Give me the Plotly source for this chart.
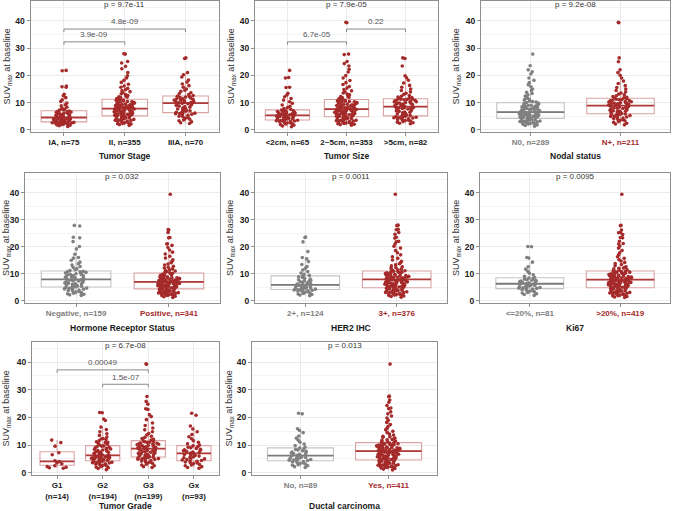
import plotly.graph_objects as go

W, H = 676, 511
FONT = "Arial, Liberation Sans, sans-serif"

RED = "#A52A2A"
RED_BOX = "#DBA3A3"
RED_MED = "#B03A3A"
GRAY = "#808080"
GRAY_BOX = "#C4C4C4"
GRAY_MED = "#7A7A7A"

# ---------------- Tumor Stage ----------------
stage_labels = ["IA, n=75", "II, n=355", "IIIA, n=70"]
stage_ia = [1.2, 1.5, 1.7, 1.8, 2.0, 2.1, 2.2, 2.3, 2.4, 2.5, 2.5, 2.6, 2.7, 2.7, 2.8, 2.8, 1.9, 2.2, 2.6,
            3.0, 3.1, 3.2, 3.3, 3.4, 3.5, 3.6, 3.7, 3.8, 3.9, 4.0, 4.1, 4.2, 4.3, 4.4, 3.3, 3.6, 3.9, 4.1,
            4.6, 4.8, 5.0, 5.1, 5.3, 5.5, 5.6, 5.8, 6.0, 6.1, 6.3, 6.5, 6.6, 6.8, 6.9, 4.9, 5.4, 5.9, 6.4,
            7.2, 7.5, 7.9, 8.3, 8.8, 9.2, 9.8, 10.4, 11.0, 11.8, 12.5, 13.0, 15.6, 15.8, 16.1, 21.7, 21.8, 7.4]
stage_ii = [1.6, 1.9, 2.1, 2.3, 2.4, 2.6, 2.8, 2.9, 3.1, 3.2, 3.4, 3.5, 3.6, 3.8, 3.9, 4.0, 4.2, 4.3, 4.4,
            4.6, 4.7, 4.8, 4.9, 5.0, 2.2, 3.3, 4.1,
            5.2, 5.3, 5.5, 5.6, 5.7, 5.9, 6.0, 6.1, 6.2, 6.4, 6.5, 6.6, 6.8, 6.9, 7.0, 7.1, 7.3, 7.4, 7.5,
            7.7, 5.4, 5.8, 6.3, 6.7, 7.2, 7.6, 6.0, 5.3,
            7.9, 8.0, 8.2, 8.3, 8.5, 8.6, 8.8, 8.9, 9.1, 9.3, 9.4, 9.6, 9.8, 9.9, 10.1, 10.3, 10.4, 10.6,
            10.8, 11.0, 11.1, 8.1, 8.7, 9.2, 9.7, 10.2, 10.9, 8.4,
            11.3, 11.5, 11.8, 12.0, 12.3, 12.6, 12.9, 13.2, 13.6, 14.0, 14.3, 14.7, 15.2, 15.6, 16.1, 16.7,
            17.4, 18.2, 19.0, 19.8, 21.0, 22.4, 23.3, 24.5, 25.1, 27.8, 27.9, 12.1]
stage_iiia = [2.3, 2.6, 2.9, 3.3, 3.6, 3.9, 4.2, 4.5, 4.8, 5.0, 5.3, 5.5, 5.7, 5.9, 6.0, 6.1, 6.2,
              6.4, 6.6, 6.9, 7.1, 7.3, 7.6, 7.8, 8.0, 8.3, 8.5, 8.7, 8.9, 9.1, 9.3, 9.5, 9.6, 9.7, 7.0,
              9.9, 10.0, 10.2, 10.3, 10.5, 10.6, 10.8, 10.9, 11.1, 11.2, 11.4, 11.5, 11.7, 11.8, 12.0, 12.1,
              12.3, 10.4,
              12.6, 12.9, 13.2, 13.6, 14.1, 14.5, 15.0, 15.6, 16.2, 16.8, 17.5, 18.3, 19.4, 20.2, 21.0,
              26.2, 26.4]
stage_q1 = [2.9, 5.1, 6.3]
stage_med = [4.5, 7.8, 9.8]
stage_q3 = [7.0, 11.2, 12.4]
stage_lo = [1.2, 1.6, 2.3]
stage_hi = [13.0, 20.0, 21.0]
stage_brackets = [(0, 1, 32.3, "3.9e-09"), (0, 2, 37.0, "4.8e-09")]

# ---------------- Tumor Size ----------------
size_labels = ["&lt;2cm, n=65", "2~5cm, n=353", "&gt;5cm, n=82"]
size_small = [1.1, 1.4, 1.7, 1.9, 2.1, 2.3, 2.5, 2.6, 2.8, 2.9, 3.0, 3.1, 3.2, 3.3, 3.4, 3.5,
              3.7, 3.8, 3.9, 4.0, 4.1, 4.2, 4.3, 4.4, 4.5, 4.6, 4.7, 4.8, 4.9, 5.0, 5.1, 5.2,
              5.4, 5.5, 5.6, 5.8, 5.9, 6.0, 6.1, 6.2, 6.4, 6.5, 6.6, 6.7, 6.9, 7.0, 7.1, 7.2,
              7.5, 7.8, 8.2, 8.6, 9.1, 9.7, 10.3, 10.9, 11.5, 12.1, 12.8, 13.4, 15.5, 15.6, 19.0, 19.2, 21.8]
size_mid = [1.7, 1.9, 2.0, 2.2, 2.3, 2.5, 2.6, 2.7, 2.9, 3.0, 3.1, 3.3, 3.4, 3.5, 3.6, 3.7, 3.9, 4.0,
            4.1, 4.2, 4.3, 4.4, 4.5, 4.6, 4.7, 2.4, 3.2,
            4.9, 5.0, 5.1, 5.3, 5.4, 5.5, 5.6, 5.8, 5.9, 6.0, 6.1, 6.2, 6.4, 6.5, 6.6, 6.7, 6.9, 7.0, 7.1,
            7.2, 7.4, 7.5, 5.2, 5.7, 6.3, 6.8, 7.3, 6.0,
            7.7, 7.8, 8.0, 8.1, 8.3, 8.4, 8.6, 8.7, 8.9, 9.0, 9.2, 9.3, 9.5, 9.7, 9.8, 10.0, 10.1, 10.3,
            10.5, 10.6, 10.8, 10.9, 11.0, 8.2, 8.8, 9.4, 9.9, 10.4,
            11.2, 11.4, 11.7, 11.9, 12.2, 12.5, 12.8, 13.1, 13.5, 13.9, 14.3, 14.8, 15.3, 15.9, 16.6, 17.3,
            18.1, 19.0, 19.9, 21.2, 22.2, 23.4, 24.3, 25.1, 27.6, 27.8, 39.3, 39.5]
size_large = [2.2, 2.4, 2.6, 2.8, 3.0, 3.2, 3.4, 3.5, 3.7, 3.8, 4.0, 4.1, 4.3, 4.4, 4.5, 4.6, 4.7, 4.8,
              4.9, 5.0,
              5.2, 5.4, 5.6, 5.8, 6.0, 6.2, 6.4, 6.5, 6.7, 6.9, 7.1, 7.3, 7.4, 7.6, 7.8, 7.9, 8.0, 8.1,
              8.2, 8.3, 8.4,
              8.6, 8.8, 8.9, 9.1, 9.3, 9.4, 9.6, 9.8, 10.0, 10.1, 10.3, 10.5, 10.6, 10.8, 10.9, 11.0,
              11.1, 11.2, 11.3, 9.7, 10.2,
              11.5, 11.6, 11.8, 12.0, 12.3, 12.6, 13.0, 13.4, 13.9, 14.4, 15.0, 15.6, 16.3, 17.2, 18.2,
              19.1, 19.8, 23.4, 26.2, 26.4]
size_q1 = [3.6, 4.8, 5.1]
size_med = [5.3, 7.6, 8.5]
size_q3 = [7.3, 11.1, 11.4]
size_lo = [1.1, 1.7, 2.2]
size_hi = [13.4, 19.9, 19.8]
size_brackets = [(0, 1, 32.3, "6.7e-05"), (1, 2, 37.0, "0.22")]

# ---------------- Nodal status ----------------
nodal_labels = ["N0, n=289", "N+, n=211"]
nodal_n0 = [1.3, 1.6, 1.8, 2.0, 2.1, 2.3, 2.4, 2.5, 2.6, 2.7, 2.8, 2.9, 3.0, 3.1, 3.2, 3.3, 3.4, 3.5, 3.6,
            3.7, 3.8, 3.9, 4.0, 4.1, 2.2,
            4.3, 4.4, 4.5, 4.6, 4.7, 4.8, 4.9, 5.0, 5.1, 5.2, 5.3, 5.4, 5.5, 5.6, 5.7, 5.8, 5.9, 6.0, 6.1,
            6.2, 6.3, 6.4, 4.6, 5.2, 5.8,
            6.6, 6.7, 6.8, 7.0, 7.1, 7.3, 7.4, 7.5, 7.7, 7.8, 8.0, 8.1, 8.3, 8.4, 8.6, 8.7, 8.9, 9.0, 9.2,
            9.3, 9.5, 9.6, 9.8, 7.2, 8.2,
            10.0, 10.2, 10.4, 10.6, 10.9, 11.1, 11.4, 11.7, 12.0, 12.4, 12.8, 13.3, 13.8, 14.4, 15.0, 15.8,
            16.5, 17.3, 18.2, 19.0, 20.5, 21.3, 22.0, 23.5, 27.8]
nodal_np = [1.8, 2.1, 2.4, 2.7, 3.0, 3.3, 3.5, 3.7, 3.9, 4.1, 4.3, 4.5, 4.7, 4.9, 5.0, 5.2, 5.3, 5.5, 5.6,
            5.7, 5.8,
            6.0, 6.2, 6.4, 6.5, 6.7, 6.9, 7.0, 7.2, 7.3, 7.5, 7.6, 7.8, 7.9, 8.1, 8.2, 8.4, 8.5, 8.6, 8.7,
            8.8, 6.8,
            9.0, 9.1, 9.2, 9.4, 9.5, 9.6, 9.8, 9.9, 10.0, 10.2, 10.3, 10.4, 10.6, 10.7, 10.8, 11.0, 11.1,
            11.2, 11.4, 11.5, 9.7,
            11.7, 11.9, 12.2, 12.5, 12.8, 13.1, 13.5, 13.9, 14.4, 15.0, 15.5, 16.2, 17.0, 17.9, 19.0, 20.0,
            21.0, 22.0, 25.0, 26.4, 39.3, 39.5]
nodal_q1 = [4.2, 5.9]
nodal_med = [6.5, 8.9]
nodal_q3 = [9.9, 11.6]
nodal_lo = [1.3, 1.8]
nodal_hi = [18.2, 20.0]

# ---------------- Hormone Receptor Status ----------------
hr_labels = ["Negative, n=159", "Positive, n=341"]
hr_neg = [2.0, 2.2, 2.4, 2.6, 2.8, 3.0, 3.2, 3.4, 3.6, 3.8, 4.0, 4.1, 4.3, 4.4, 4.6, 4.7, 4.8, 4.9, 5.0,
          5.2, 5.4, 5.5, 5.7, 5.8, 6.0, 6.2, 6.3, 6.5, 6.6, 6.8, 7.0, 7.1, 7.3, 7.4, 7.6, 7.7, 7.8, 6.1,
          8.0, 8.2, 8.3, 8.5, 8.7, 8.8, 9.0, 9.2, 9.3, 9.5, 9.7, 9.8, 10.0, 10.2, 10.3, 10.5, 10.7, 10.8,
          10.9,
          11.2, 11.5, 11.9, 12.3, 12.7, 13.2, 13.7, 14.3, 15.0, 15.8, 16.0, 17.2, 19.2, 20.1, 21.9, 23.3,
          23.5, 27.7, 27.9]
hr_pos = [1.2, 1.5, 1.7, 1.9, 2.0, 2.1, 2.3, 2.4, 2.5, 2.6, 2.7, 2.8, 2.9, 3.0, 3.1, 3.2, 3.3, 3.4, 3.5,
          3.6, 3.7, 3.8, 3.9, 4.0, 4.1, 4.2, 4.3, 2.2, 3.0, 3.6,
          4.5, 4.6, 4.7, 4.8, 4.9, 5.0, 5.1, 5.2, 5.3, 5.4, 5.5, 5.6, 5.7, 5.8, 5.9, 6.0, 6.1, 6.2, 6.3,
          6.4, 6.5, 6.6, 6.7, 6.8, 6.9, 4.8, 5.3, 5.9, 6.4, 6.0,
          7.1, 7.2, 7.3, 7.4, 7.5, 7.6, 7.7, 7.8, 7.9, 8.0, 8.1, 8.2, 8.3, 8.4, 8.5, 8.6, 8.7, 8.8, 8.9,
          9.0, 9.2, 9.4, 9.6, 9.8, 10.0, 10.2, 7.5, 8.0, 8.8, 9.5,
          10.4, 10.6, 10.8, 11.0, 11.2, 11.5, 11.8, 12.1, 12.4, 12.8, 13.2, 13.6, 14.1, 14.6, 15.2, 15.8,
          16.5, 17.3, 18.0, 18.8, 19.7, 20.5, 21.0, 21.1, 23.3, 23.4, 25.3, 26.2, 26.4, 39.4]
hr_q1 = [5.1, 4.4]
hr_med = [7.9, 7.0]
hr_q3 = [11.0, 10.3]
hr_lo = [2.0, 1.2]
hr_hi = [19.2, 18.8]

# ---------------- HER2 IHC ----------------
her2_labels = ["2+, n=124", "3+, n=376"]
her2_2 = [1.9, 2.1, 2.3, 2.5, 2.7, 2.9, 3.1, 3.3, 3.5, 3.6, 3.7, 3.8, 3.9, 4.0, 4.1,
          4.3, 4.4, 4.5, 4.6, 4.7, 4.8, 4.9, 5.0, 5.1, 5.2, 5.3, 5.5, 5.6, 5.7, 5.8,
          6.0, 6.2, 6.4, 6.6, 6.8, 7.0, 7.2, 7.4, 7.6, 7.8, 8.0, 8.3, 8.6, 8.9, 9.1,
          9.4, 9.8, 10.3, 10.8, 11.4, 12.0, 12.7, 13.4, 14.5, 15.5, 16.0, 18.2, 21.8, 23.4, 23.6]
her2_3 = [1.3, 1.6, 1.8, 2.0, 2.1, 2.2, 2.3, 2.5, 2.6, 2.7, 2.8, 3.0, 3.1, 3.2, 3.3, 3.4, 3.5, 3.6, 3.7,
          3.8, 3.9, 4.0, 4.1, 4.2, 4.3, 4.4, 4.5, 4.6, 4.7, 2.4, 3.5,
          4.9, 5.0, 5.1, 5.2, 5.3, 5.4, 5.5, 5.6, 5.7, 5.8, 5.9, 6.0, 6.1, 6.2, 6.3, 6.4, 6.5, 6.6, 6.7,
          6.8, 6.9, 7.0, 7.1, 7.2, 7.3, 7.4, 7.5, 7.6, 7.7, 7.8, 6.2,
          8.0, 8.1, 8.2, 8.3, 8.4, 8.5, 8.6, 8.7, 8.8, 8.9, 9.0, 9.1, 9.2, 9.3, 9.4, 9.5, 9.6, 9.7, 9.8,
          9.9, 10.0, 10.1, 10.2, 10.3, 10.4, 10.5, 10.6, 10.7, 10.8, 10.9, 9.0,
          11.1, 11.3, 11.5, 11.7, 12.0, 12.3, 12.6, 12.9, 13.3, 13.7, 14.1, 14.6, 15.1, 15.7, 16.3, 17.0,
          17.8, 18.6, 19.5, 20.2, 21.0, 21.8, 22.0, 23.2, 23.5, 24.6, 25.3, 26.3, 26.5, 27.8, 28.0, 39.4]
her2_q1 = [4.2, 4.8]
her2_med = [5.9, 7.9]
her2_q3 = [9.2, 11.0]
her2_lo = [1.9, 1.3]
her2_hi = [16.0, 20.2]

# ---------------- Ki67 ----------------
ki_labels = ["&lt;=20%, n=81", "&gt;20%, n=419"]
ki_low = [2.0, 2.3, 2.6, 2.9, 3.1, 3.3, 3.5, 3.7, 3.9, 4.1, 4.3, 4.4,
          4.6, 4.7, 4.8, 4.9, 5.1, 5.2, 5.4, 5.5, 5.7, 5.8, 5.9, 6.1, 6.2,
          6.4, 6.5, 6.7, 6.8, 7.0, 7.2, 7.3, 7.5, 7.6, 7.8, 8.0, 8.2, 8.4,
          8.7, 9.1, 9.6, 10.2, 10.9, 11.7, 12.6, 14.3, 15.8, 16.0, 20.0, 20.1]
ki_high = [1.2, 1.4, 1.6, 1.8, 1.9, 2.0, 2.1, 2.3, 2.4, 2.5, 2.6, 2.7, 2.8, 2.9, 3.0, 3.1, 3.2, 3.3, 3.4,
           3.5, 3.6, 3.7, 3.8, 3.9, 4.0, 4.1, 4.2, 4.3, 4.4, 4.5, 4.6, 4.7,
           4.9, 5.0, 5.1, 5.2, 5.3, 5.4, 5.5, 5.6, 5.7, 5.8, 5.9, 6.0, 6.1, 6.2, 6.3, 6.4, 6.5, 6.6, 6.7,
           6.8, 6.9, 7.0, 7.1, 7.2, 7.3, 7.4, 7.5, 7.6, 7.7, 5.5, 6.3, 7.0,
           7.9, 8.0, 8.1, 8.2, 8.3, 8.4, 8.5, 8.6, 8.7, 8.8, 8.9, 9.0, 9.1, 9.2, 9.3, 9.4, 9.5, 9.6, 9.7,
           9.8, 9.9, 10.0, 10.1, 10.2, 10.3, 10.4, 10.5, 10.6, 10.7, 10.8, 10.9, 8.5, 9.5,
           11.1, 11.3, 11.5, 11.8, 12.0, 12.3, 12.6, 13.0, 13.4, 13.8, 14.2, 14.7, 15.2, 15.7, 16.3, 17.0,
           17.8, 18.6, 19.5, 20.3, 21.0, 21.2, 22.0, 23.3, 23.4, 24.5, 25.2, 25.3, 26.2, 27.8, 27.9, 39.4,
           12.1]
ki_q1 = [4.5, 4.8]
ki_med = [6.3, 7.8]
ki_q3 = [8.5, 11.0]
ki_lo = [2.0, 1.2]
ki_hi = [14.3, 20.3]

# ---------------- Tumor Grade ----------------
grade_labels = ["G1<br>(n=14)", "G2<br>(n=194)", "G3<br>(n=199)", "Gx<br>(n=93)"]
grade_g1 = [1.6, 1.8, 2.0, 2.2, 2.5, 3.2, 3.5, 4.0, 4.3, 6.5, 7.2, 9.6, 10.9, 11.8]
grade_g2 = [1.1, 1.5, 1.8, 2.0, 2.2, 2.4, 2.6, 2.8, 2.9, 3.1, 3.2, 3.4, 3.5, 3.6, 3.7, 3.8, 3.9, 4.0,
            4.1, 4.2,
            4.4, 4.5, 4.6, 4.7, 4.8, 4.9, 5.0, 5.1, 5.2, 5.3, 5.4, 5.5, 5.6, 5.7, 5.8, 5.9, 6.0, 6.1,
            6.2, 5.0,
            6.4, 6.6, 6.8, 7.0, 7.2, 7.4, 7.6, 7.8, 8.0, 8.2, 8.4, 8.6, 8.8, 9.0, 9.2, 9.4, 9.6, 9.7,
            7.5, 8.5,
            10.0, 10.3, 10.6, 10.9, 11.2, 11.6, 12.0, 12.4, 12.9, 13.5, 14.1, 14.8, 15.6, 16.5, 18.9,
            19.4, 21.7, 21.8, 11.0, 12.2]
grade_g3 = [1.9, 2.2, 2.5, 2.8, 3.1, 3.4, 3.6, 3.8, 4.0, 4.2, 4.4, 4.6, 4.8, 4.9, 5.0, 5.1, 5.2, 5.3,
            5.4, 5.5, 5.6,
            5.8, 5.9, 6.1, 6.2, 6.4, 6.5, 6.7, 6.8, 7.0, 7.1, 7.3, 7.4, 7.6, 7.7, 7.9, 8.0, 8.2, 8.3,
            8.5, 8.6, 7.0,
            8.8, 8.9, 9.1, 9.2, 9.4, 9.5, 9.7, 9.8, 10.0, 10.1, 10.3, 10.4, 10.6, 10.7, 10.9, 11.0,
            11.2, 11.3, 11.5, 9.6, 10.5,
            11.8, 12.1, 12.4, 12.8, 13.2, 13.7, 14.2, 14.8, 15.5, 16.2, 17.1, 18.0, 19.2, 20.3, 21.0,
            22.9, 23.1, 24.8, 25.8, 27.6, 39.2, 39.4]
grade_gx = [1.6, 1.9, 2.2, 2.5, 2.8, 3.0, 3.3, 3.5, 3.7, 3.9, 4.1, 4.2,
            4.4, 4.6, 4.8, 5.0, 5.2, 5.4, 5.6, 5.8, 6.0, 6.2, 6.4, 6.6, 6.8,
            7.1, 7.3, 7.5, 7.7, 7.9, 8.1, 8.3, 8.5, 8.8, 9.0, 9.2, 9.5, 9.7,
            10.0, 10.5, 11.0, 11.6, 12.3, 13.0, 13.8, 14.8, 15.8, 16.9, 20.8, 21.5]
grade_q1 = [2.7, 4.3, 5.7, 4.3]
grade_med = [4.1, 6.3, 8.7, 7.0]
grade_q3 = [7.6, 9.8, 11.6, 9.8]
grade_lo = [1.6, 1.1, 1.9, 1.6]
grade_hi = [11.8, 16.5, 20.3, 16.9]
grade_brackets = [(0, 2, 37.2, "0.00049"), (1, 2, 32.0, "1.5e-07")]

# ---------------- Ductal carcinoma ----------------
duct_labels = ["No, n=89", "Yes, n=411"]
duct_no = [1.9, 2.2, 2.5, 2.7, 2.9, 3.1, 3.3, 3.5, 3.7, 3.9, 4.0, 4.2,
           4.4, 4.5, 4.6, 4.8, 4.9, 5.1, 5.2, 5.4, 5.5, 5.7, 5.8, 6.0, 6.1,
           6.3, 6.5, 6.7, 6.9, 7.1, 7.3, 7.5, 7.7, 7.9, 8.2, 8.4, 8.6, 8.9,
           9.3, 9.8, 10.4, 11.0, 11.7, 12.5, 13.3, 14.5, 15.3, 15.9, 21.3, 21.5]
duct_yes = [1.0, 1.3, 1.5, 1.7, 1.9, 2.0, 2.1, 2.2, 2.3, 2.4, 2.5, 2.6, 2.7, 2.8, 2.9, 3.0, 3.1, 3.2,
            3.3, 3.4, 3.5, 3.6, 3.7, 3.8, 3.9, 4.0, 4.1, 4.2, 4.3, 4.4, 4.5, 2.2,
            4.7, 4.8, 4.9, 5.0, 5.1, 5.2, 5.3, 5.4, 5.5, 5.6, 5.7, 5.8, 5.9, 6.0, 6.1, 6.2, 6.3, 6.4,
            6.5, 6.6, 6.7, 6.8, 6.9, 7.0, 7.1, 7.2, 7.3, 7.4, 7.5, 7.6, 7.7, 6.0,
            7.9, 8.0, 8.1, 8.2, 8.3, 8.4, 8.5, 8.6, 8.7, 8.8, 8.9, 9.0, 9.1, 9.2, 9.3, 9.4, 9.5, 9.6,
            9.7, 9.8, 9.9, 10.0, 10.1, 10.2, 10.3, 10.4, 10.5, 10.6, 10.7, 10.8, 8.4, 9.3, 10.0,
            11.0, 11.2, 11.4, 11.7, 11.9, 12.2, 12.5, 12.8, 13.2, 13.6, 14.0, 14.5, 15.0, 15.5, 16.0,
            16.7, 17.4, 18.2, 19.0, 19.8, 20.5, 21.3, 22.0, 23.2, 23.4, 24.3, 25.5, 26.3, 27.5, 27.7,
            39.3, 12.0, 13.0]
duct_q1 = [4.3, 4.6]
duct_med = [6.2, 7.8]
duct_q3 = [9.0, 10.9]
duct_lo = [1.9, 1.0]
duct_hi = [15.9, 19.8]

# ---------------- panel assembly ----------------
panels = [
    dict(title="Tumor Stage", p="p = 9.7e-11", labels=stage_labels,
         groups=[stage_ia, stage_ii, stage_iiia], colors=["r", "r", "r"], colored_ticks=False,
         q1=stage_q1, med=stage_med, q3=stage_q3, lo=stage_lo, hi=stage_hi, brackets=stage_brackets),
    dict(title="Tumor Size", p="p = 7.9e-05", labels=size_labels,
         groups=[size_small, size_mid, size_large], colors=["r", "r", "r"], colored_ticks=False,
         q1=size_q1, med=size_med, q3=size_q3, lo=size_lo, hi=size_hi, brackets=size_brackets),
    dict(title="Nodal status", p="p = 9.2e-08", labels=nodal_labels,
         groups=[nodal_n0, nodal_np], colors=["g", "r"], colored_ticks=True,
         q1=nodal_q1, med=nodal_med, q3=nodal_q3, lo=nodal_lo, hi=nodal_hi, brackets=[]),
    dict(title="Hormone Receptor Status", p="p = 0.032", labels=hr_labels,
         groups=[hr_neg, hr_pos], colors=["g", "r"], colored_ticks=True,
         q1=hr_q1, med=hr_med, q3=hr_q3, lo=hr_lo, hi=hr_hi, brackets=[]),
    dict(title="HER2 IHC", p="p = 0.0011", labels=her2_labels,
         groups=[her2_2, her2_3], colors=["g", "r"], colored_ticks=True,
         q1=her2_q1, med=her2_med, q3=her2_q3, lo=her2_lo, hi=her2_hi, brackets=[]),
    dict(title="Ki67", p="p = 0.0095", labels=ki_labels,
         groups=[ki_low, ki_high], colors=["g", "r"], colored_ticks=True,
         q1=ki_q1, med=ki_med, q3=ki_q3, lo=ki_lo, hi=ki_hi, brackets=[]),
    dict(title="Tumor Grade", p="p = 6.7e-08", labels=grade_labels,
         groups=[grade_g1, grade_g2, grade_g3, grade_gx], colors=["r", "r", "r", "r"], colored_ticks=False,
         q1=grade_q1, med=grade_med, q3=grade_q3, lo=grade_lo, hi=grade_hi, brackets=grade_brackets),
    dict(title="Ductal carcinoma", p="p = 0.013", labels=duct_labels,
         groups=[duct_no, duct_yes], colors=["g", "r"], colored_ticks=True,
         q1=duct_q1, med=duct_med, q3=duct_q3, lo=duct_lo, hi=duct_hi, brackets=[]),
]

# panel frames in pixels: left, top, right, bottom
frames = [(30.5, 1, 219, 133), (255, 1, 438, 133), (481, 1, 670, 133),
          (25, 174, 220, 305), (255, 174, 447, 305), (480, 174, 670, 305),
          (32, 344, 219, 478), (252, 344, 437, 478)]
xtitle_y = [157, 157, 157, 330, 330, 330, 508.5, 508.5]
ytitle_x = [8, 232, 457, 6, 230, 456, 7, 230]

STYLE = {"r": (RED, RED_BOX, RED_MED), "g": (GRAY, GRAY_BOX, GRAY_MED)}
Y_RANGE = [-0.9, 47.3]
BOXW = 0.75

fig = go.Figure()
layout = dict(width=W, height=H, margin=dict(l=0, r=0, t=0, b=0),
              paper_bgcolor="white", plot_bgcolor="white", showlegend=False,
              font=dict(family=FONT, color="#222"), annotations=[])

for k, (pn, fr) in enumerate(zip(panels, frames), start=1):
    s = "" if k == 1 else str(k)
    xa, ya = "x" + s, "y" + s
    l, t, r, b = fr
    n = len(pn["labels"])
    px_unit = (r - l) / (n + 0.1)
    jit = 24 / (BOXW * px_unit)

    for i, vals in enumerate(pn["groups"]):
        pcol, bcol, mcol = STYLE[pn["colors"][i]]
        fig.add_trace(go.Box(x=[i], q1=[pn["q1"][i]], median=[pn["med"][i]], q3=[pn["q3"][i]],
                             lowerfence=[pn["lo"][i]], upperfence=[pn["hi"][i]],
                             width=BOXW, whiskerwidth=0, boxpoints=False,
                             line=dict(color=bcol, width=1.1), fillcolor="rgba(0,0,0,0)",
                             xaxis=xa, yaxis=ya, hoverinfo="skip"))
        m = pn["med"][i]
        fig.add_trace(go.Box(x=[i], q1=[m], median=[m], q3=[m], lowerfence=[m], upperfence=[m],
                             width=BOXW, whiskerwidth=0, boxpoints=False,
                             line=dict(color=mcol, width=1.8), fillcolor="rgba(0,0,0,0)",
                             xaxis=xa, yaxis=ya, hoverinfo="skip"))
        fig.add_trace(go.Box(y=vals, x0=i, width=BOXW, boxpoints="all", jitter=jit, pointpos=0,
                             whiskerwidth=0, line=dict(width=0), fillcolor="rgba(0,0,0,0)",
                             marker=dict(color=pcol, size=3.6, line=dict(width=0)),
                             xaxis=xa, yaxis=ya))

    for a, c, h, txt in pn["brackets"]:
        fig.add_trace(go.Scatter(x=[a, a, c, c], y=[h - 1.1, h, h, h - 1.1], mode="lines",
                                 line=dict(color="#8a8a8a", width=1), xaxis=xa, yaxis=ya,
                                 hoverinfo="skip"))
        layout["annotations"].append(dict(x=(a + c) / 2, y=h + 0.2, xref=xa, yref=ya, text=txt,
                                          showarrow=False, xanchor="center", yanchor="bottom",
                                          font=dict(size=8, color="#555")))

    if pn["colored_ticks"]:
        ticktext = [f"<span style='color:{STYLE[c][0]}'>{lab}</span>"
                    for lab, c in zip(pn["labels"], pn["colors"])]
    else:
        ticktext = pn["labels"]

    layout["xaxis" + s] = dict(domain=[l / W, r / W], anchor=ya, range=[-0.55, n - 1 + 0.55],
                               tickvals=list(range(n)), ticktext=ticktext,
                               showgrid=True, gridcolor="#EBEBEB", gridwidth=1, zeroline=False,
                               showline=True, mirror=True, linecolor="#8F8F8F", linewidth=1,
                               ticks="outside", ticklen=2.5, tickcolor="#8F8F8F",
                               tickfont=dict(size=8, family=FONT, color="#1a1a1a", weight="bold"))
    layout["yaxis" + s] = dict(domain=[1 - b / H, 1 - t / H], anchor=xa, range=Y_RANGE,
                               tickvals=[0, 10, 20, 30, 40],
                               showgrid=True, gridcolor="#EBEBEB", gridwidth=1, zeroline=False,
                               minor=dict(tickvals=[5, 15, 25, 35, 45], showgrid=True,
                                          gridcolor="#F4F4F4", gridwidth=0.6),
                               showline=True, mirror=True, linecolor="#8F8F8F", linewidth=1,
                               ticks="outside", ticklen=3, tickcolor="#8F8F8F",
                               tickfont=dict(size=8.5, family=FONT, color="#1a1a1a", weight="bold"))

    layout["annotations"].append(dict(x=0.5, y=46, xref=xa + " domain", yref=ya, text=pn["p"],
                                      showarrow=False, xanchor="center", yanchor="middle",
                                      font=dict(size=8, color="#333")))
    layout["annotations"].append(dict(x=(l + r) / 2 / W, y=1 - xtitle_y[k - 1] / H, xref="paper",
                                      yref="paper", text=f"<b>{pn['title']}</b>", showarrow=False,
                                      xanchor="center", yanchor="middle",
                                      font=dict(size=8.5, color="#1a1a1a")))
    layout["annotations"].append(dict(x=ytitle_x[k - 1] / W, y=1 - (t + b) / 2 / H, xref="paper",
                                      yref="paper", text="SUV<sub>max</sub> at baseline",
                                      textangle=-90, showarrow=False,
                                      xanchor="center", yanchor="middle",
                                      font=dict(size=9, color="#333")))

fig.update_layout(**layout)
fig.write_html("out.html", config={"displayModeBar": False},
               post_script="document.body.style.margin='0';")
